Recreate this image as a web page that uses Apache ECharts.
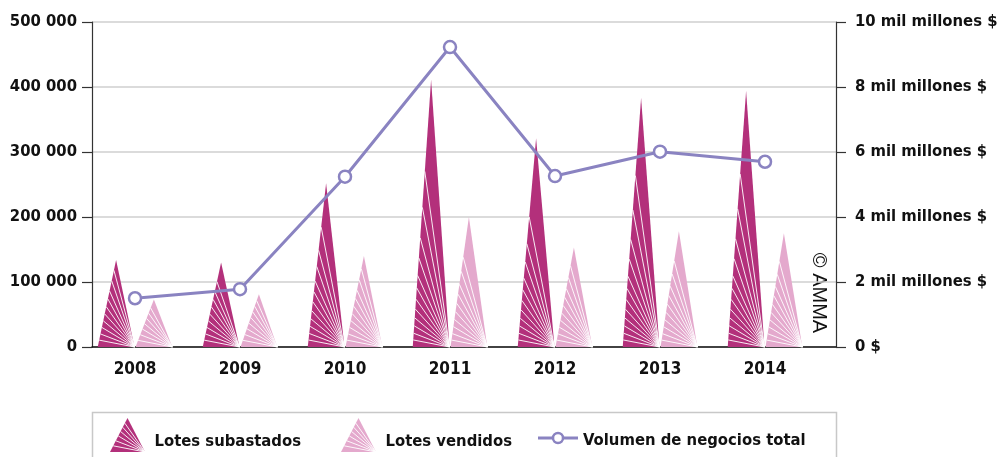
<!DOCTYPE html>
<html>
<head>
<meta charset="utf-8">
<script src="https://cdn.jsdelivr.net/npm/echarts@6/dist/echarts.min.js"></script>
<style>
  html, body { margin: 0; padding: 0; background: #fff; }
  #chart { width: 1000px; height: 457px; }
</style>
</head>
<body>
<div id="chart"></div>
<script>
// ---- data ----
const years = ['2008', '2009', '2010', '2011', '2012', '2013', '2014'];
const lotsAuctioned = [134000, 130000, 252000, 411000, 321000, 383000, 394000];
const lotsSold = [73000, 81000, 140000, 200000, 153000, 178000, 175000];
const turnoverBillions = [1.5, 1.78, 5.24, 9.23, 5.26, 6.01, 5.7];
const leftTickLabels = ['0', '100 000', '200 000', '300 000', '400 000', '500 000'];
const rightTickLabels = ['0 $', '2 mil millones $', '4 mil millones $', '6 mil millones $', '8 mil millones $', '10 mil millones $'];
const seriesNames = ['Lotes subastados', 'Lotes vendidos', 'Volumen de negocios total'];

// ---- style ----
const DARK = '#b3307b';
const LIGHT = '#e4a9cd';
const LINEC = '#8a83c1';
const FONT = "'Liberation Sans Narrow', 'DejaVu Sans Condensed', 'Arial Narrow', sans-serif";
const FAN = [11, 21, 31, 40, 48, 55, 61, 66, 71, 75, 79, 82];

function fanSegments(x0, x1, y0, yTop) {
  const w = x1 - x0, H = y0 - yTop;
  const k = 2 * H / w;
  const apexAng = Math.atan(k) * 180 / Math.PI;
  const segs = [];
  FAN.forEach(function (deg) {
    if (deg > apexAng - 3) return;
    const p = deg * Math.PI / 180;
    const t = w * k / (Math.sin(p) + k * Math.cos(p));
    segs.push([x1, y0, x1 - t * Math.cos(p), y0 - t * Math.sin(p)]);
  });
  return segs;
}

function triRender(sign, color) {
  return function (params, api) {
    const idx = api.value(0);
    const top = api.coord([idx, api.value(1)]);
    const base = api.coord([idx, 0]);
    const band = api.size([1, 0])[0];
    const w = band * 0.35;
    const cx = base[0] + sign * band * 0.18;
    const x0 = cx - w / 2, x1 = cx + w / 2, y0 = base[1], yTop = top[1];
    const children = [{
      type: 'polygon',
      shape: { points: [[x0, y0], [cx, yTop], [x1, y0]] },
      style: { fill: color }
    }];
    fanSegments(x0, x1, y0, yTop).forEach(function (s) {
      children.push({
        type: 'line',
        shape: { x1: s[0], y1: s[1], x2: s[2], y2: s[3] },
        style: { stroke: '#fff', lineWidth: 0.9 }
      });
    });
    return { type: 'group', children: children };
  };
}

function triIcon(color) {
  const w = 35, h = 34;
  let svg = '<svg xmlns="http://www.w3.org/2000/svg" width="' + w + '" height="' + h + '" viewBox="0 0 ' + w + ' ' + h + '">';
  svg += '<polygon points="0,' + h + ' ' + (w / 2) + ',0 ' + w + ',' + h + '" fill="' + color + '"/>';
  fanSegments(0, w, h, 0).forEach(function (s) {
    svg += '<line x1="' + s[0] + '" y1="' + s[1] + '" x2="' + s[2].toFixed(2) + '" y2="' + s[3].toFixed(2) + '" stroke="#fff" stroke-width="0.9"/>';
  });
  svg += '</svg>';
  return 'image://data:image/svg+xml;charset=utf-8,' + encodeURIComponent(svg);
}

function lineIcon() {
  const svg = '<svg xmlns="http://www.w3.org/2000/svg" width="40" height="14" viewBox="0 0 40 14">' +
    '<line x1="0" y1="7" x2="40" y2="7" stroke="' + LINEC + '" stroke-width="3"/>' +
    '<circle cx="20" cy="7" r="5" fill="#fff" stroke="' + LINEC + '" stroke-width="2.5"/></svg>';
  return 'image://data:image/svg+xml;charset=utf-8,' + encodeURIComponent(svg);
}

const chart = echarts.init(document.getElementById('chart'), null, { renderer: 'canvas' });

function legendText(padTop) {
  return {
    fontFamily: FONT, fontWeight: 'bold', fontSize: 16.5, color: '#111',
    rich: { t: { fontFamily: FONT, fontWeight: 'bold', fontSize: 16.5, color: '#111', padding: [padTop, 0, 0, 0] } }
  };
}
const AXFONT = 16.5;

chart.setOption({
  animation: false,
  backgroundColor: '#fff',
  grid: [
    { left: 92, right: 164, top: 22, bottom: 110, containLabel: false, outerBoundsMode: 'none' },
    { left: 82.5, right: 182.5, top: 22, bottom: 110, containLabel: false, outerBoundsMode: 'none' }
  ],
  legend: [
    { left: 105.5, top: 418, padding: 0, itemWidth: 44, itemHeight: 34, textStyle: legendText(14),
      formatter: '{t|{name}}', data: [{ name: seriesNames[0], icon: triIcon(DARK) }] },
    { left: 336.5, top: 418, padding: 0, itemWidth: 44, itemHeight: 34, textStyle: legendText(14),
      formatter: '{t|{name}}', data: [{ name: seriesNames[1], icon: triIcon(LIGHT) }] },
    { left: 538, top: 431, padding: 0, itemWidth: 40, itemHeight: 14, textStyle: legendText(6),
      formatter: '{t|{name}}', data: [{ name: seriesNames[2], icon: lineIcon() }] }
  ],
  xAxis: [
    { type: 'category', gridIndex: 0, data: years,
      axisLine: { show: true, lineStyle: { color: '#111', width: 1.5 } },
      axisTick: { show: false }, axisLabel: { show: false }, splitLine: { show: false } },
    { type: 'category', gridIndex: 1, data: years,
      axisLine: { show: false }, axisTick: { show: false },
      axisLabel: { margin: 14, fontFamily: FONT, fontWeight: 'bold', fontSize: 17, color: '#111' } }
  ],
  yAxis: [
    { type: 'value', gridIndex: 0, position: 'left', min: 0, max: 500000, interval: 100000,
      axisLine: { show: true, lineStyle: { color: '#333', width: 1.2 } },
      axisTick: { show: true, length: 10, lineStyle: { color: '#333', width: 1.2 } },
      axisLabel: { margin: 15, fontFamily: FONT, fontWeight: 'bold', fontSize: AXFONT, color: '#111',
        formatter: function (v) { return leftTickLabels[Math.round(v / 100000)]; } },
      splitLine: { show: true, lineStyle: { color: '#cfcfcf', width: 1.5 } } },
    { type: 'value', gridIndex: 0, position: 'right', min: 0, max: 10, interval: 2,
      axisLine: { show: true, lineStyle: { color: '#333', width: 1.2 } },
      axisTick: { show: true, length: 10, lineStyle: { color: '#333', width: 1.2 } },
      axisLabel: { margin: 19, fontFamily: FONT, fontWeight: 'bold', fontSize: AXFONT, color: '#111',
        formatter: function (v) { return rightTickLabels[Math.round(v / 2)]; } },
      splitLine: { show: false } },
    { type: 'value', gridIndex: 1, min: 0, max: 500000, show: false },
    { type: 'value', gridIndex: 1, min: 0, max: 10, show: false }
  ],
  series: [
    { name: seriesNames[0], type: 'custom', xAxisIndex: 1, yAxisIndex: 2, color: DARK,
      renderItem: triRender(-1, DARK), encode: { x: 0, y: 1 },
      data: lotsAuctioned.map(function (v, i) { return [i, v]; }), z: 2 },
    { name: seriesNames[1], type: 'custom', xAxisIndex: 1, yAxisIndex: 2, color: LIGHT,
      renderItem: triRender(1, LIGHT), encode: { x: 0, y: 1 },
      data: lotsSold.map(function (v, i) { return [i, v]; }), z: 2 },
    { name: seriesNames[2], type: 'line', xAxisIndex: 1, yAxisIndex: 3, data: turnoverBillions,
      symbol: 'circle', symbolSize: 12, color: LINEC,
      lineStyle: { color: LINEC, width: 3 },
      itemStyle: { color: '#fff', borderColor: LINEC, borderWidth: 2.5 }, z: 5 }
  ],
  graphic: [
    { type: 'rect', shape: { x: 92.5, y: 412.5, width: 744, height: 60 },
      style: { fill: 'none', stroke: '#c8c8c8', lineWidth: 1.5 }, z: -1 },
    { type: 'text', x: 819, y: 293, rotation: -Math.PI / 2,
      style: { text: '© AMMA', font: "20px 'Liberation Sans', Arial, sans-serif", fill: '#111',
        textAlign: 'center', textVerticalAlign: 'middle' } }
  ]
});
</script>
</body>
</html>
